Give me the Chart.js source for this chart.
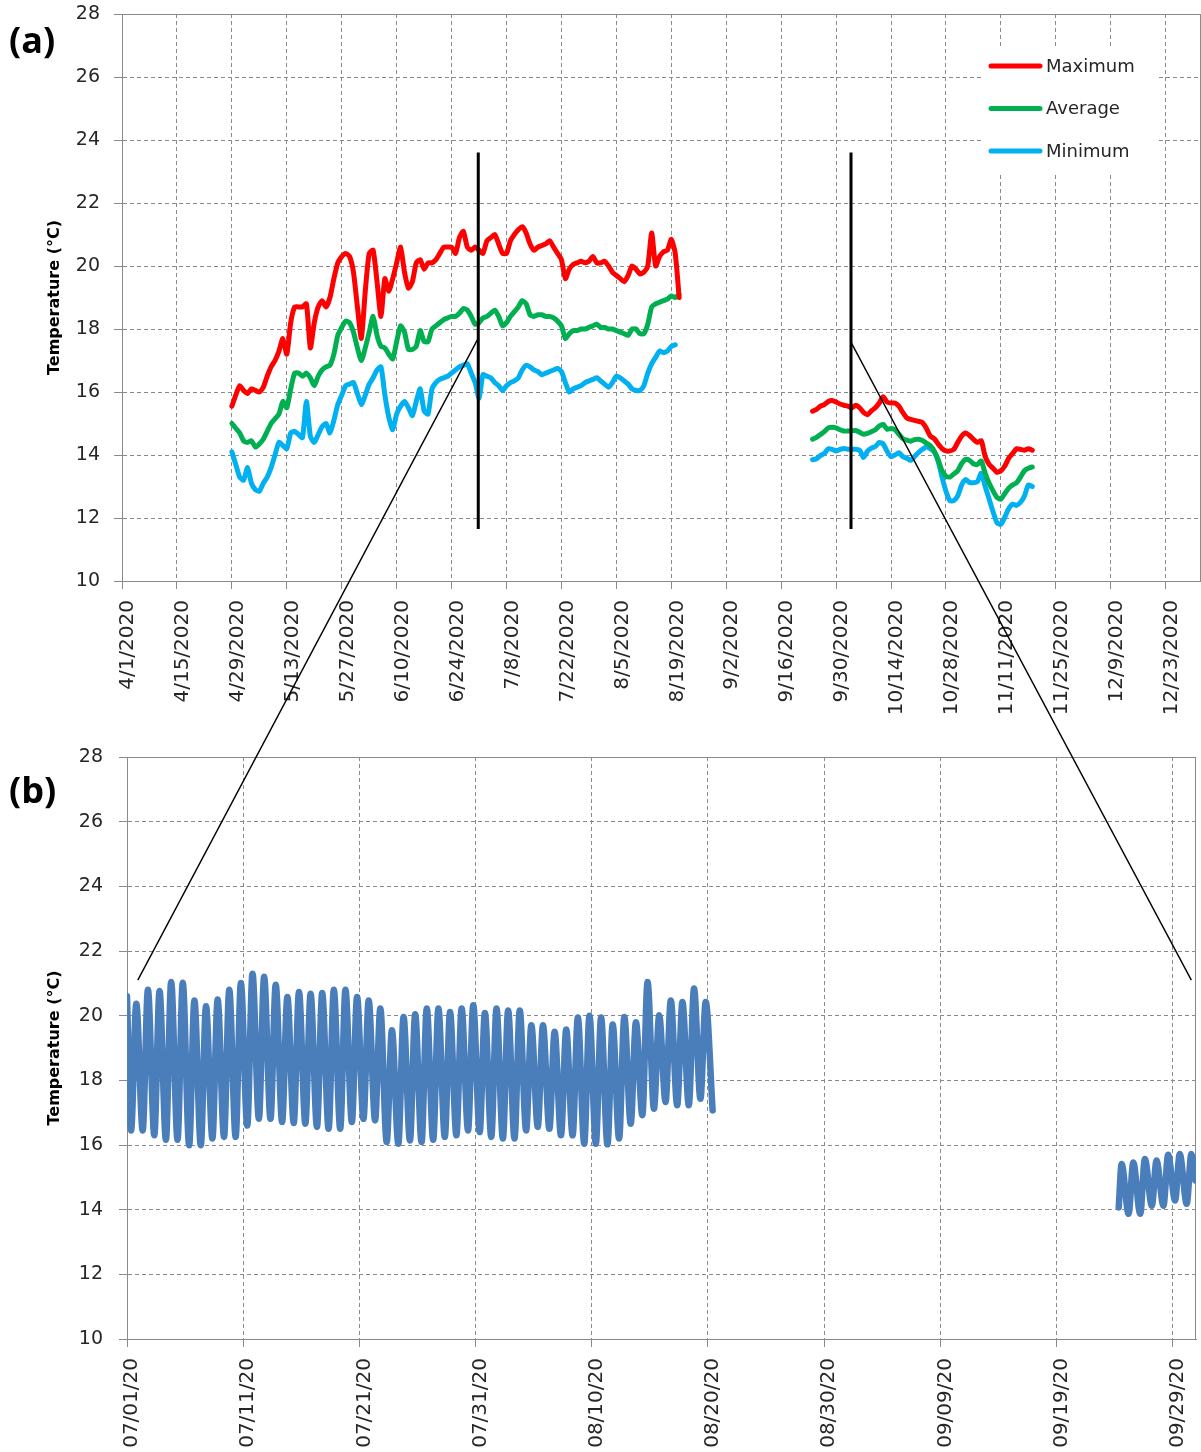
<!DOCTYPE html>
<html>
<head>
<meta charset="utf-8">
<script src="https://cdn.jsdelivr.net/npm/chart.js@4.4.1/dist/chart.umd.min.js"></script>
<style>
  html, body { margin: 0; padding: 0; background: #fff; }
  #page { position: relative; width: 1201px; height: 1452px; overflow: hidden; background: #fff; }
  canvas { position: absolute; left: 0; }
  .panel { position: absolute; left: 9px; font: bold 36px "Open Sans", sans-serif; color: #000; line-height: 1; }
</style>
</head>
<body>
<div id="page">
  <canvas id="chartA" width="1201" height="740" style="top:0"></canvas>
  <canvas id="chartB" width="1201" height="712" style="top:740px"></canvas>
  <canvas id="links" width="1201" height="1452" style="top:0"></canvas>
  <div class="panel" style="top:22px">(a)</div>
  <div class="panel" style="top:772px">(b)</div>
</div>
<script>
// ---------- panel (a): daily values, day 0 = 4/1/2020
const tickDaysA = [0, 14, 28, 42, 56, 70, 84, 98, 112, 126, 140, 154, 168, 182, 196, 210, 224, 238, 252, 266];
const tickLabelsA = ["4/1/2020", "4/15/2020", "4/29/2020", "5/13/2020", "5/27/2020", "6/10/2020", "6/24/2020",
  "7/8/2020", "7/22/2020", "8/5/2020", "8/19/2020", "9/2/2020", "9/16/2020", "9/30/2020", "10/14/2020",
  "10/28/2020", "11/11/2020", "11/25/2020", "12/9/2020", "12/23/2020"];

const springStart = 28; // 4/29/2020
const maxSpring = [
  15.55, 15.9, 16.2, 16.05, 15.95, 16.1, 16.05, 16.0, 16.15, 16.5,
  16.8, 17.0, 17.3, 17.7, 17.2, 18.2, 18.7, 18.7, 18.7, 18.8,
  17.4, 18.2, 18.7, 18.9, 18.7, 19.0, 19.6, 20.1, 20.3, 20.4,
  20.3, 19.8, 18.7, 17.7, 19.2, 20.4, 20.5, 19.5, 18.4, 19.6,
  19.2, 19.6, 20.1, 20.6, 19.8, 19.3, 19.5, 20.1, 20.2, 19.9,
  20.1, 20.1, 20.2, 20.4, 20.6, 20.6, 20.6, 20.4, 20.9, 21.1,
  20.6, 20.5, 20.6, 20.5, 20.4, 20.8, 20.9, 21.0, 20.7, 20.4,
  20.4, 20.8, 21.0, 21.15, 21.25, 21.05, 20.7, 20.5, 20.6, 20.65,
  20.7, 20.8, 20.6, 20.4, 20.2, 19.6, 19.9, 20.05, 20.1, 20.15,
  20.1, 20.15, 20.3, 20.1, 20.1, 20.15, 20.0, 19.8, 19.7, 19.6,
  19.5, 19.7, 20.0, 19.9, 19.75, 19.8, 20.0, 21.05, 20.0, 20.3,
  20.45, 20.5, 20.85, 20.4, 19.0];
const avgSpring = [
  15.0, 14.85, 14.7, 14.45, 14.4, 14.45, 14.25, 14.35, 14.5, 14.75,
  15.0, 15.15, 15.3, 15.7, 15.5, 16.1, 16.6, 16.6, 16.5, 16.6,
  16.45, 16.2, 16.5, 16.7, 16.8, 16.85, 17.2, 17.8, 18.05, 18.25,
  18.2, 17.9, 17.4, 17.0, 17.4, 17.9, 18.4, 17.8, 17.45, 17.4,
  17.2, 17.05, 17.6, 18.1, 17.9, 17.35, 17.35, 17.45, 17.95, 17.6,
  17.6, 18.0, 18.1, 18.2, 18.3, 18.35, 18.4, 18.4, 18.5, 18.65,
  18.6, 18.4, 18.15, 18.2, 18.35, 18.4, 18.5, 18.6, 18.4, 18.1,
  18.2, 18.4, 18.55, 18.7, 18.9, 18.8, 18.45, 18.4, 18.45, 18.45,
  18.4, 18.4, 18.35, 18.25, 18.1, 17.7, 17.85, 17.95, 17.95, 18.0,
  18.0, 18.05, 18.1, 18.15, 18.05, 18.05, 18.0, 18.0, 17.95, 17.9,
  17.85, 17.8, 18.0, 18.0, 17.85, 17.85, 18.15, 18.7, 18.8, 18.85,
  18.9, 18.95, 19.05, 19.0, 19.1];
const minSpring = [
  14.1, 13.7, 13.3, 13.2, 13.6, 13.1, 12.9, 12.85, 13.1, 13.3,
  13.6, 14.0, 14.4, 14.3, 14.2, 14.7, 14.75, 14.65, 14.55, 15.7,
  14.6, 14.4, 14.65, 14.9, 15.0, 14.7, 15.1, 15.6, 15.9, 16.2,
  16.25, 16.3, 15.95, 15.6, 15.9, 16.25, 16.45, 16.7, 16.8, 15.9,
  15.2, 14.8, 15.3, 15.55, 15.7, 15.5, 15.25, 15.7, 16.1, 15.4,
  15.3, 16.1, 16.3, 16.4, 16.45, 16.5, 16.6, 16.7, 16.8, 16.85,
  16.9, 16.6, 16.3, 15.8, 16.55, 16.5, 16.45, 16.3, 16.2, 16.05,
  16.2, 16.3, 16.35, 16.45, 16.7, 16.85, 16.8, 16.7, 16.65, 16.55,
  16.6, 16.65, 16.7, 16.75, 16.65, 16.3, 16.0, 16.1, 16.15, 16.2,
  16.3, 16.35, 16.4, 16.45, 16.35, 16.25, 16.15, 16.3, 16.5, 16.45,
  16.35, 16.25, 16.1, 16.05, 16.05, 16.2, 16.6, 16.9, 17.1, 17.3,
  17.25, 17.3, 17.45, 17.5, null];

const autumnStart = 176; // 9/24/2020
const maxAutumn = [
  15.39, 15.45, 15.55, 15.6, 15.7, 15.73, 15.68, 15.62, 15.58, 15.55,
  15.5, 15.58, 15.5, 15.35, 15.28, 15.4, 15.5, 15.65, 15.85, 15.68,
  15.65, 15.65, 15.55, 15.35, 15.18, 15.13, 15.1, 15.07, 15.03, 14.85,
  14.6, 14.52, 14.35, 14.2, 14.13, 14.13, 14.18, 14.4, 14.6, 14.7,
  14.62, 14.5, 14.4, 14.45, 13.95, 13.7, 13.58, 13.45, 13.5, 13.65,
  13.9, 14.05, 14.2, 14.18, 14.15, 14.2, 14.15];
const avgAutumn = [
  14.5, 14.56, 14.65, 14.74, 14.86, 14.88, 14.86, 14.8, 14.76, 14.76,
  14.77, 14.78, 14.72, 14.66, 14.69, 14.74, 14.8, 14.92, 14.97, 14.82,
  14.84, 14.8, 14.66, 14.52, 14.47, 14.44, 14.49, 14.5, 14.46, 14.38,
  14.3, 14.13, 13.85, 13.5, 13.33, 13.3, 13.4, 13.5, 13.73, 13.86,
  13.83, 13.72, 13.7, 13.81, 13.42, 13.1, 12.86, 12.65, 12.6, 12.78,
  12.95, 13.05, 13.12, 13.3, 13.5, 13.58, 13.62];
const minAutumn = [
  13.85, 13.88, 13.98, 14.05, 14.2, 14.18, 14.13, 14.18, 14.21, 14.18,
  14.18, 14.18, 14.15, 13.92, 14.12, 14.22, 14.27, 14.4, 14.35, 14.12,
  13.95, 14.0, 14.07, 13.95, 13.9, 13.83, 13.95, 14.08, 14.18, 14.26,
  14.2, 14.1, 13.8, 13.3, 12.85, 12.55, 12.55, 12.7, 13.05, 13.22,
  13.13, 13.12, 13.15, 13.42, 13.0, 12.6, 12.2, 11.85, 11.8, 12.03,
  12.3, 12.44, 12.4, 12.5, 12.7, 13.05, 13.0];

// ---------- panel (b): day 0 = 07/01/20, one trough and one peak per day
const tickDaysB = [0, 10, 20, 30, 40, 50, 60, 70, 80, 90];
const tickLabelsB = ["07/01/20", "07/11/20", "07/21/20", "07/31/20", "08/10/20",
  "08/20/20", "08/30/20", "09/09/20", "09/19/20", "09/29/20"];

const julFirst = [0, 20.6];
const julTroughAt = 0.35, julPeakAt = 0.8; // time of day of the daily min / max
const julTroughs = [
  16.45, 16.45, 16.3, 16.16, 16.16, 15.99, 15.99, 16.2, 16.25, 16.25,
  16.6, 16.81, 16.81, 16.71, 16.68, 16.66, 16.56, 16.5, 16.5, 16.71,
  16.81, 16.76, 16.09, 16.04, 16.14, 16.09, 16.16, 16.25, 16.3, 16.45,
  16.4, 16.25, 16.2, 16.2, 16.45, 16.56, 16.5, 16.3, 16.3, 16.04,
  16.04, 16.02, 16.2, 16.66, 16.92, 17.12, 17.33, 17.23, 17.23, 17.43];
const julPeaks = [
  20.37, 20.8, 20.76, 21.04, 21.02, 20.47, 20.29, 20.5, 20.8, 21.01,
  21.3, 21.2, 20.96, 20.58, 20.73, 20.68, 20.7, 20.8, 20.8, 20.58,
  20.47, 20.22, 19.55, 19.96, 20.04, 20.22, 20.22, 20.11, 20.22, 20.32,
  20.08, 20.22, 20.16, 20.16, 19.7, 19.7, 19.5, 19.57, 19.94, 20.0,
  19.94, 19.73, 19.96, 19.8, 21.04, 20.01, 20.47, 20.42, 20.84, 20.42];
const julLast = [50.4, 17.07];

const sepFirst = [85.35, 14.07];
const sepPeakDay = 85.6, sepTroughDay = 86.2;
const sepPeaks = [15.41, 15.46, 15.57, 15.52, 15.7, 15.72, 15.72];
const sepTroughs = [13.87, 13.87, 14.12, 14.12, 14.28, 14.18];
const sepLast = [91.95, 14.9];

// ---------- zoom marks linking (a) to (b)
const zoomBarDays = [90.8, 185.8];
const zoomBarRange = [11.65, 23.6];
const linkFromA = [[90.8, 17.71], [185.75, 17.59]];
const linkToB = [[0.93, 21.1], [91.6, 21.1]];

// ---------- helpers
const FONT = '"DejaVu Sans", Verdana, sans-serif';
const GRID = "#8a8a8a";
const TEXT = "#262626";

const daily = (start, vals) => vals.map((v, i) => ({ x: start + i, y: v }));
const seriesA = (spring, autumn) =>
  [...daily(springStart, spring), { x: 160, y: null }, ...daily(autumnStart, autumn)];

const tempB = [{ x: julFirst[0], y: julFirst[1] }];
julTroughs.forEach((v, k) => {
  tempB.push({ x: k + julTroughAt, y: v }, { x: k + julPeakAt, y: julPeaks[k] });
});
tempB.push({ x: julLast[0], y: julLast[1] }, { x: 70, y: null }, { x: sepFirst[0], y: sepFirst[1] });
sepPeaks.forEach((v, k) => {
  tempB.push({ x: sepPeakDay + k, y: v });
  if (k < sepTroughs.length) tempB.push({ x: sepTroughDay + k, y: sepTroughs[k] });
});
tempB.push({ x: sepLast[0], y: sepLast[1] });

const yScale = (width, pad) => ({
  min: 10, max: 28,
  ticks: { stepSize: 2, padding: pad, color: TEXT, font: { family: FONT, size: 19 } },
  grid: { color: GRID, lineWidth: 1, tickLength: 8, tickColor: GRID },
  border: { display: true, color: GRID, width: 1, dash: [4, 3] },
  title: {
    display: true, text: "Temperature (°C)", color: "#000",
    font: { family: FONT, size: 16, weight: "bold" }, padding: { top: 45, bottom: 0 }
  },
  afterFit: (s) => { s.width = width; s.paddingTop = 0; s.paddingBottom = 0; }
});

const xScale = (max, days, labels, height, offset) => ({
  type: "linear", min: 0, max: max,
  afterBuildTicks: (s) => { s.ticks = days.map((v) => ({ value: v })); },
  ticks: {
    autoSkip: false, minRotation: 90, maxRotation: 90, padding: 11, labelOffset: offset,
    color: TEXT, font: { family: FONT, size: 20 },
    callback: (v, i) => labels[i]
  },
  grid: { color: GRID, lineWidth: 1, tickLength: 8, tickColor: GRID },
  border: { display: true, color: GRID, width: 1, dash: [4, 3] },
  afterFit: (s) => { s.height = height; s.paddingLeft = 0; s.paddingRight = 0; }
});

// solid plot-area frame like the spreadsheet chart
const frame = {
  id: "frame",
  beforeDatasetsDraw(chart) {
    const { ctx, chartArea: a } = chart;
    ctx.save();
    ctx.strokeStyle = GRID;
    ctx.lineWidth = 1;
    ctx.strokeRect(a.left + 0.5, a.top + 0.5, a.right - a.left - 1, a.bottom - a.top);
    ctx.restore();
  }
};

// legend inside the plot area of (a)
const boxLegend = {
  id: "boxLegend",
  afterDatasetsDraw(chart) {
    const ctx = chart.ctx;
    ctx.save();
    ctx.fillStyle = "#fff";
    ctx.fillRect(982, 47, 175, 125);
    ctx.font = "18px " + FONT;
    ctx.textBaseline = "middle";
    chart.data.datasets.forEach((ds, i) => {
      const y = 66 + i * 42.5;
      ctx.strokeStyle = ds.borderColor;
      ctx.lineWidth = 5;
      ctx.lineCap = "round";
      ctx.beginPath();
      ctx.moveTo(991, y);
      ctx.lineTo(1040, y);
      ctx.stroke();
      ctx.fillStyle = TEXT;
      ctx.fillText(ds.label, 1046, y + 1);
    });
    ctx.restore();
  }
};

const lineA = (label, color, spring, autumn) => ({
  label, data: seriesA(spring, autumn), borderColor: color, backgroundColor: color,
  borderWidth: 5, pointRadius: 0, tension: 0.2, spanGaps: false,
  borderJoinStyle: "round", borderCapStyle: "round"
});

const chartA = new Chart(document.getElementById("chartA"), {
  type: "line",
  data: {
    datasets: [
      lineA("Maximum", "#FF0000", maxSpring, maxAutumn),
      lineA("Average", "#00B050", avgSpring, avgAutumn),
      lineA("Minimum", "#00B0F0", minSpring, minAutumn)
    ]
  },
  options: {
    responsive: false, animation: false, devicePixelRatio: 1,
    layout: { padding: { top: 14, right: 0, bottom: 0, left: 0 } },
    scales: {
      x: xScale(275, tickDaysA, tickLabelsA, 159, 6),
      y: yScale(122, 14)
    },
    plugins: { legend: { display: false }, tooltip: { enabled: false } }
  },
  plugins: [frame, boxLegend]
});

const chartB = new Chart(document.getElementById("chartB"), {
  type: "line",
  data: {
    datasets: [{
      label: "Temperature", data: tempB, borderColor: "#4A7EBB", backgroundColor: "#4A7EBB",
      borderWidth: 6.5, pointRadius: 0, cubicInterpolationMode: "monotone", spanGaps: false,
      borderJoinStyle: "round", borderCapStyle: "round"
    }]
  },
  options: {
    responsive: false, animation: false, devicePixelRatio: 1,
    layout: { padding: { top: 17, right: 5, bottom: 0, left: 0 } },
    scales: {
      x: xScale(92, tickDaysB, tickLabelsB, 113, 5),
      y: yScale(127, 16)
    },
    plugins: { legend: { display: false }, tooltip: { enabled: false } }
  },
  plugins: [frame]
});

// bars and connector lines drawn across both charts
const lc = document.getElementById("links").getContext("2d");
const offB = 740;
const ax = chartA.scales.x, ay = chartA.scales.y, bx = chartB.scales.x, by = chartB.scales.y;
lc.strokeStyle = "#000";
lc.lineWidth = 3;
zoomBarDays.forEach((d) => {
  const x = ax.getPixelForValue(d);
  lc.beginPath();
  lc.moveTo(x, ay.getPixelForValue(zoomBarRange[0]));
  lc.lineTo(x, ay.getPixelForValue(zoomBarRange[1]));
  lc.stroke();
});
lc.lineWidth = 1.4;
linkFromA.forEach((p, i) => {
  const q = linkToB[i];
  lc.beginPath();
  lc.moveTo(ax.getPixelForValue(p[0]), ay.getPixelForValue(p[1]));
  lc.lineTo(bx.getPixelForValue(q[0]), by.getPixelForValue(q[1]) + offB);
  lc.stroke();
});
</script>
</body>
</html>
